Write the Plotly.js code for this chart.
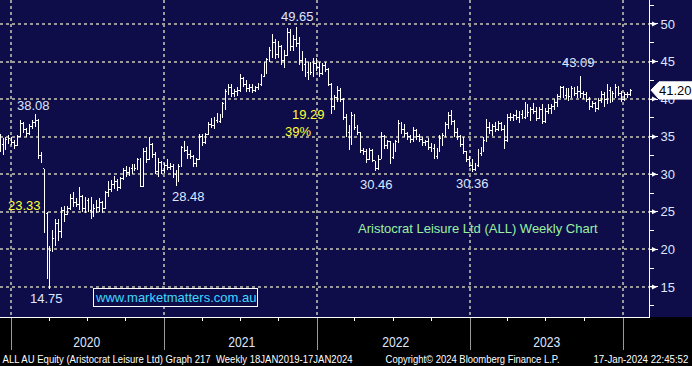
<!DOCTYPE html>
<html>
<head>
<meta charset="utf-8">
<script src="https://cdn.plot.ly/plotly-3.0.1.min.js"></script>
<style>html,body{margin:0;padding:0;background:#000;}#chart{width:692px;height:366px;}
#chart .ohlclayer path{shape-rendering:crispEdges;}</style>
</head>
<body>
<div id="chart"></div>
<script>
// Weekly bars, first week ending 2019-12-06
const startDate = '2019-12-06';
const weekOpen = [
34.5,34.0,33.5,34.6,34.8,34.2,33.8,35.0,36.8,35.9,
35.4,36.3,36.9,37.2,32.5,30.7,24.8,18.0,20.0,21.5,
23.5,22.4,25.2,24.6,25.5,26.8,26.2,26.0,27.0,25.4,
26.5,25.2,24.6,25.5,25.6,26.2,25.5,27.6,28.0,28.6,
29.0,28.2,29.4,30.5,30.2,30.8,31.0,30.8,32.0,28.4,
33.0,32.0,34.0,32.6,30.3,31.5,30.5,31.2,30.9,31.0,
30.0,29.2,31.0,33.5,33.2,32.6,32.3,31.4,32.0,35.0,
34.2,35.3,36.6,36.5,37.2,37.0,38.0,39.4,41.0,41.5,
40.8,41.0,41.2,42.8,42.0,41.4,41.6,41.2,41.5,42.0,
43.0,44.6,45.3,46.5,47.6,46.0,47.0,45.2,45.8,48.8,
47.0,48.0,47.4,45.2,44.6,43.5,44.5,43.5,44.8,44.2,
43.4,44.5,44.0,42.0,39.0,40.2,41.2,40.0,37.6,35.6,
34.0,37.8,36.2,35.5,33.2,33.0,32.0,33.2,31.8,30.8,
32.0,35.0,33.8,34.3,32.2,33.8,34.3,36.8,36.0,35.4,
35.0,34.6,35.8,35.0,34.6,34.2,34.4,33.6,33.4,32.3,
33.2,34.8,35.2,36.6,37.8,37.0,35.5,35.0,34.0,33.0,
32.0,31.2,30.6,31.2,32.8,33.2,34.5,36.2,35.8,36.4,
36.0,36.8,36.0,34.5,37.6,37.5,37.8,37.6,38.0,37.6,
39.2,38.2,38.6,38.4,37.4,38.6,37.0,38.4,38.8,39.0,
39.6,40.4,41.6,40.5,41.2,40.3,41.4,40.8,41.0,40.8,
40.6,40.0,39.0,39.4,38.8,39.8,40.6,40.0,41.2,40.2,
40.8,41.5,40.8,40.0,40.6,40.6];
const weekHigh = [
35.4,34.8,35.0,35.2,35.0,34.6,35.2,37.2,37.0,36.2,
36.7,37.2,38.08,37.3,33.0,30.7,25.0,20.4,22.6,24.1,
24.1,25.6,25.8,25.8,27.4,27.6,26.8,28.3,27.2,27.0,
26.8,27.0,26.0,26.6,26.8,26.5,27.8,29.1,29.3,29.8,
29.4,29.6,30.8,31.1,31.0,31.3,31.4,32.2,32.2,33.5,
33.6,35.0,34.2,33.0,32.2,31.7,31.5,32.0,31.5,31.3,
30.5,31.3,33.8,34.4,33.8,33.2,32.5,32.2,35.3,35.3,
35.5,37.0,37.5,37.6,38.1,38.0,39.6,41.4,42.0,42.0,
41.4,41.6,43.4,43.0,42.5,42.0,42.0,41.8,42.2,43.4,
45.0,45.5,47.0,48.6,48.0,47.7,47.2,46.5,49.5,49.3,
48.5,49.65,48.2,46.4,45.5,45.0,45.0,45.5,45.5,45.0,
44.8,45.0,44.2,42.2,40.5,41.8,41.5,40.2,38.0,36.5,
38.3,38.0,36.5,35.5,33.5,33.3,33.5,33.4,31.8,32.5,
35.6,35.2,34.6,34.4,34.2,34.6,37.2,37.0,36.7,35.6,
35.2,36.3,36.0,35.4,35.0,34.6,34.8,34.1,34.0,33.5,
35.2,35.5,37.0,38.3,38.6,37.2,36.2,35.2,34.9,33.1,
32.4,32.0,31.5,33.4,33.6,34.9,37.3,37.0,36.7,37.0,
37.1,36.9,36.5,38.0,38.2,38.0,38.5,38.4,38.5,39.6,
39.3,39.0,39.5,38.9,38.9,39.3,38.8,39.3,39.3,40.0,
40.7,41.8,41.8,41.5,41.5,41.8,41.6,41.8,43.09,41.1,
41.0,40.3,39.8,39.6,40.2,41.1,41.0,42.0,41.6,41.1,
42.0,41.8,41.1,41.0,40.9,41.3];
const weekLow = [
33.0,32.6,33.2,34.0,33.9,33.3,33.7,35.0,35.5,35.0,
35.2,36.0,36.3,32.0,31.5,22.2,16.0,14.75,19.6,20.4,
21.1,21.5,23.7,24.6,25.2,25.6,25.6,25.2,25.0,24.8,
25.0,24.1,24.3,24.8,25.0,24.8,25.4,27.0,27.6,28.0,
27.8,28.0,29.2,29.7,29.8,30.0,30.4,30.5,28.3,28.4,
31.5,32.0,32.2,30.0,29.6,30.0,30.2,30.6,30.5,29.5,
28.48,29.0,30.9,32.9,32.0,32.0,31.0,31.0,32.0,33.8,
34.0,35.2,36.2,36.0,36.8,36.8,37.5,38.6,40.5,40.3,
40.3,40.4,41.0,41.6,41.0,41.0,40.8,40.9,41.2,41.8,
43.0,43.4,45.0,45.5,45.3,45.5,44.5,44.2,45.8,46.4,
46.4,47.0,44.6,43.8,42.9,42.5,43.2,43.0,43.8,43.0,
43.2,43.6,41.8,38.0,38.5,39.6,39.6,37.2,35.0,33.2,
34.0,35.9,35.2,32.8,32.6,31.5,32.0,31.6,30.46,30.5,
32.0,33.3,33.3,31.3,32.0,33.0,34.2,35.4,35.0,34.5,
34.1,34.3,34.5,34.3,33.7,33.7,33.2,33.0,32.0,32.0,
33.0,33.7,35.0,36.0,36.5,34.9,34.6,33.6,32.7,31.6,
30.9,30.36,30.4,31.0,32.4,32.9,34.3,35.4,35.1,35.6,
35.8,35.8,33.4,34.3,37.1,37.1,37.2,36.8,37.3,37.4,
37.6,37.1,38.0,37.1,37.3,36.7,36.8,38.0,38.0,38.6,
38.9,40.2,40.2,40.0,39.8,40.2,40.4,40.2,40.2,40.0,
39.6,38.5,38.8,38.3,38.5,39.5,38.9,39.3,39.5,39.6,
40.2,40.4,39.6,39.8,40.2,40.4];
const weekClose = [
34.0,33.5,34.6,34.8,34.2,33.8,35.0,36.8,35.9,35.4,
36.3,36.9,37.2,32.5,31.8,24.8,18.0,19.8,21.5,23.5,
22.4,25.2,24.6,25.5,26.8,26.2,26.0,27.0,25.4,26.5,
25.2,24.6,25.5,25.6,26.2,25.5,27.6,28.0,28.6,29.0,
28.2,29.4,30.5,30.2,30.8,31.0,30.8,32.0,28.4,33.0,
32.0,34.0,32.6,30.3,31.5,30.5,31.2,30.9,31.0,30.0,
29.2,31.0,33.5,33.2,32.6,32.3,31.4,32.0,35.0,34.2,
35.3,36.6,36.5,37.2,37.0,37.8,39.4,41.0,41.5,40.8,
41.0,41.2,42.8,42.0,41.4,41.6,41.2,41.5,42.0,43.0,
44.6,45.3,46.5,47.6,46.0,47.0,45.2,45.8,48.8,47.0,
48.0,47.4,45.2,44.6,43.5,44.5,43.5,44.8,44.2,43.4,
44.5,44.0,42.0,39.0,40.2,41.2,40.0,37.6,35.6,34.0,
37.8,36.2,35.5,33.2,33.0,32.0,33.2,31.8,30.8,32.0,
35.0,33.8,34.3,32.2,33.8,34.3,36.8,36.0,35.4,35.0,
34.6,35.8,35.0,34.6,34.2,34.4,33.6,33.4,32.3,33.2,
34.8,35.2,36.6,37.8,37.0,35.5,35.0,34.0,33.0,32.0,
31.2,30.6,31.2,32.8,33.2,34.5,36.2,35.8,36.4,36.0,
36.8,36.0,34.5,37.6,37.5,37.8,37.6,38.0,37.6,39.2,
38.2,38.6,38.4,37.4,38.6,37.0,38.4,38.8,39.0,39.6,
40.4,41.6,40.5,41.2,40.3,41.4,40.8,41.0,40.8,40.6,
40.0,39.0,39.4,38.8,39.8,40.6,40.0,41.2,40.2,40.8,
41.5,40.8,40.0,40.6,40.6,41.20];

const yearLabels = ['2020', '2021', '2022', '2023'];
const yTickVals = [15, 20, 25, 30, 35, 40, 45, 50];
const lastPrice = 41.20;

// build dates
const t0 = Date.parse(startDate + 'T00:00:00Z');
const weekDates = weekClose.map((_, i) => new Date(t0 + i * 7 * 86400000).toISOString().slice(0, 10));

// pixel -> paper helpers (plot area 649 x 317)
const W = 649, H = 317;
const px = x => x / W;
const py = y => 1 - y / H;

const NAVY = '#0e0d4a';
const LBL = '#dfe6ff';
const FONT = 'Arial, "Liberation Sans", sans-serif';

const trace = {
  type: 'ohlc',
  x: weekDates,
  open: weekOpen, high: weekHigh, low: weekLow, close: weekClose,
  increasing: {line: {color: '#ffffff', width: 1}},
  decreasing: {line: {color: '#ffffff', width: 1}},
  tickwidth: 0.45,
  hoverinfo: 'skip',
  showlegend: false
};

const annotations = [];
const squeeze = {}; // annotation index -> target text width in px
function lab(text, x, y, color, size, xanchor, width) {
  if (width) squeeze[annotations.length] = width;
  annotations.push({text: text, xref: 'paper', yref: 'paper', x: px(x), y: py(y),
    xanchor: xanchor || 'center', yanchor: 'middle', showarrow: false,
    font: {family: FONT, size: size || 13, color: color || LBL}});
}
lab('38.08', 33, 106);
lab('23.33', 24, 205, '#ffff33');
lab('14.75', 46, 298);
lab('28.48', 188, 196);
lab('49.65', 297, 16);
lab('19.29', 308, 115, '#ffff33');
lab('39%', 298, 131, '#ffff33');
lab('30.46', 376, 184);
lab('30.36', 472, 183);
lab('43.09', 578, 63);
lab('Aristocrat Leisure Ltd (ALL) Weekly Chart', 478, 229, '#9cf0a0', 13);
annotations.push({text: 'www.marketmatters.com.au', xref: 'paper', yref: 'paper', x: px(175.5), y: py(297),
  xanchor: 'center', yanchor: 'middle', showarrow: false, bordercolor: '#ffffff', borderwidth: 1, borderpad: 1,
  bgcolor: NAVY, font: {family: FONT, size: 13, color: '#3fd8ff'}});

// year labels (condensed)
const yearX = [86.5, 241, 395, 546];
yearLabels.forEach((t, i) => lab(t, yearX[i], 341, LBL, 15, 'center', 27));

// footer (condensed)
lab('ALL AU Equity (Aristocrat Leisure Ltd) Graph 217  Weekly 18JAN2019-17JAN2024', 177, 359, '#ffffff', 10.5, 'center', 350);
lab('Copyright\u00a9 2024 Bloomberg Finance L.P.', 473, 359, '#ffffff', 10.5, 'center', 174);
lab('17-Jan-2024 22:45:52', 641, 359, '#ffffff', 10, 'center', 95);

// y tick arrowheads
yTickVals.forEach(v => annotations.push({text: '', xref: 'paper', yref: 'y', x: px(657), y: v,
  showarrow: true, ax: -8, ay: 0, arrowhead: 2, arrowsize: 1, arrowwidth: 1, arrowcolor: '#ffffff'}));

// last price tag
annotations.push({text: lastPrice.toFixed(2), xref: 'paper', yref: 'y', x: px(675), y: lastPrice,
  xanchor: 'center', yanchor: 'middle', showarrow: false, font: {family: FONT, size: 13, color: '#000000'}});

const shapes = [
  {type: 'rect', xref: 'paper', yref: 'paper', x0: 1, x1: 692 / W, y0: 0, y1: 1, fillcolor: NAVY, line: {width: 0}, layer: 'below'},
  {type: 'path', xref: 'paper', yref: 'y', layer: 'above',
   path: `M ${px(651)},${lastPrice} L ${px(659)},${lastPrice + 1.1} L ${px(692)},${lastPrice + 1.1} L ${px(692)},${lastPrice - 1.2} L ${px(659)},${lastPrice - 1.2} Z`,
   fillcolor: '#ffffff', line: {color: '#ffffff', width: 1}}
];

const layout = {
  width: 692, height: 366,
  margin: {l: 0, r: 43, t: 0, b: 49, pad: 0},
  paper_bgcolor: '#000000', plot_bgcolor: NAVY,
  showlegend: false,
  xaxis: {
    type: 'date', range: ['2019-12-05 18:00', '2024-03-03'],
    rangeslider: {visible: false},
    tick0: '2020-01-01', dtick: 'M12',
    showgrid: true, gridcolor: '#9a9a9a', gridwidth: 2, griddash: 'dot',
    ticks: 'outside', ticklen: 32, tickcolor: '#9a9a9a', tickwidth: 1,
    showticklabels: false, showline: true, linecolor: '#ffffff', linewidth: 1, zeroline: false,
    minor: {tick0: '2020-01-01', dtick: 'M3', ticks: 'outside', ticklen: 3, tickcolor: '#ffffff', tickwidth: 1, showgrid: false},
    fixedrange: true
  },
  yaxis: {
    side: 'right', range: [11.0, 53.19],
    tickvals: yTickVals, ticktext: yTickVals.map(String),
    showgrid: true, gridcolor: '#9a9a9a', gridwidth: 2, griddash: 'dot',
    ticks: 'outside', ticklen: 8, tickcolor: '#ffffff', tickwidth: 1,
    tickfont: {family: FONT, size: 13, color: LBL},
    showline: true, linecolor: '#ffffff', linewidth: 1, zeroline: false,
    minor: {dtick: 2.5, tick0: 0, ticks: 'outside', ticklen: 4, tickcolor: '#ffffff', tickwidth: 1, showgrid: false},
    fixedrange: true
  },
  annotations: annotations,
  shapes: shapes
};

Plotly.newPlot('chart', [trace], layout, {displayModeBar: false, staticPlot: true}).then(gd => {
  // condense narrow-font texts (Bloomberg uses a condensed face)
  gd.querySelectorAll('g.annotation').forEach(g => {
    const idx = +g.getAttribute('data-index');
    if (squeeze[idx]) {
      const t = g.querySelector('text.annotation-text');
      if (t) {
        t.setAttribute('textLength', squeeze[idx]);
        t.setAttribute('lengthAdjust', 'spacingAndGlyphs');
      }
    }
  });
});
</script>
</body>
</html>
